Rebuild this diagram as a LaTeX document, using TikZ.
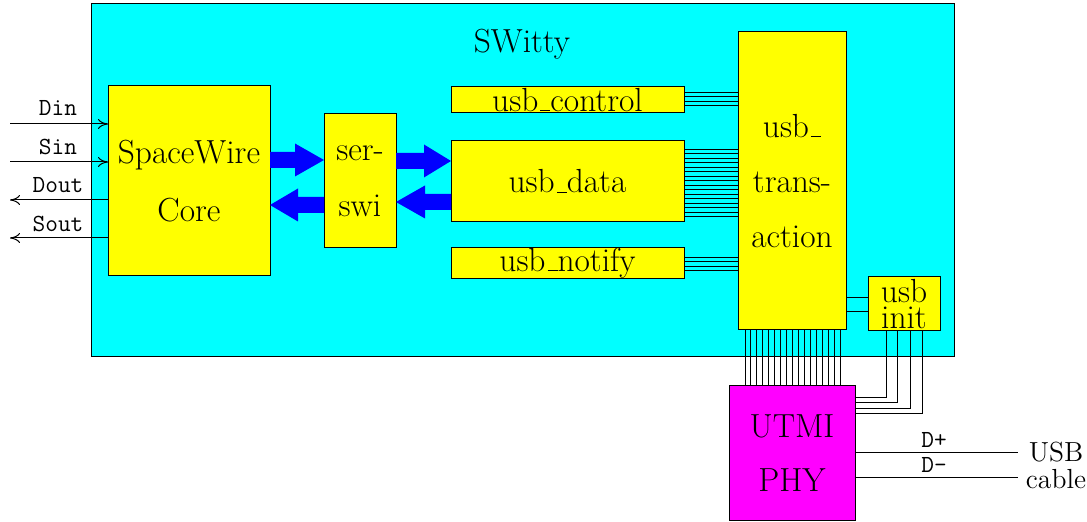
\documentclass[tikz,border=0pt]{standalone}
\usetikzlibrary{arrows.meta,calc}
\definecolor{boxcyan}{RGB}{0,255,255}
\definecolor{boxyellow}{RGB}{255,255,0}
\definecolor{boxmagenta}{RGB}{255,0,255}
\definecolor{pathblue}{RGB}{0,0,255}
% low underscore drawn as a short rule on the baseline
\newcommand\undsc{\leavevmode\kern.06em\vbox{\hrule height 0.5pt width .3em}}
% fat blue data-path arrow: start, tip, signed head length
\newcommand\fatarrow[3]{%
  \fill[fat] ($(#1)+(0,-8)$) -- ($(#2)+(#3,-8)$) -- ($(#2)+(#3,-16.5)$) -- (#2)
    -- ($(#2)+(#3,16.5)$) -- ($(#2)+(#3,8)$) -- ($(#1)+(0,8)$) -- cycle;}
\begin{document}
\begin{tikzpicture}[x=0.5pt,y=-0.5pt,
  every node/.style={inner sep=0pt,outer sep=0pt},
  spanbox/.style n args={4}{rectangle,
    minimum width={(#3-#1)*0.5pt},minimum height={(#4-#2)*0.5pt},
    at={({(#1+#3)/2},{(#2+#4)/2})}},
  unitbox/.style={draw=black,line width=0.5pt,align=center,
    font=\fontsize{16.7pt}{28pt}\selectfont},
  sig/.style={line width=0.5pt},
  wire/.style={line width=0.45pt},
  tip/.style={-{To[length=5pt,width=5pt]}},
  fat/.style={fill=pathblue},
  lab/.style={font=\ttfamily\fontsize{12.3pt}{13pt}\selectfont},
]
\useasboundingbox (0,0) rectangle (1087,522);

% enclosing block
\node[draw=black,line width=0.5pt,fill=boxcyan,spanbox={91}{4}{954}{357}] (switty) {};
\node[font=\fontsize{16.7pt}{20pt}\selectfont,anchor=base] (title) at (522,53) {SWitty};

% functional units
\node[unitbox,fill=boxyellow,spanbox={108}{86}{270}{276},
  font=\fontsize{16.7pt}{29pt}\selectfont] (core) {SpaceWire\\Core};
\node[unitbox,fill=boxyellow,spanbox={324}{114}{396}{248}] (ser) {ser-\\swi};
\node[unitbox,fill=boxyellow,spanbox={451}{87}{684}{113}] (ctrl) {usb\undsc control};
\node[unitbox,fill=boxyellow,spanbox={451}{141}{684}{222}] (data) {usb\undsc data};
\node[unitbox,fill=boxyellow,spanbox={451}{250}{684}{276}] (notify) {usb\undsc notify};
\node[unitbox,fill=boxyellow,spanbox={738}{32}{846}{330},
  font=\fontsize{16.7pt}{27.5pt}\selectfont] (trans) {usb\undsc\\trans-\\action};
\node[unitbox,fill=boxyellow,spanbox={868}{277}{940}{331},
  font=\fontsize{16.7pt}{13pt}\selectfont] (init) {usb\\init};
\node[unitbox,fill=boxmagenta,spanbox={729}{386}{855}{521},
  font=\fontsize{16.7pt}{27pt}\selectfont] (utmi) {UTMI\\PHY};

% external SpaceWire signals
\coordinate (din) at (10,124);
\coordinate (sin) at (10,162);
\coordinate (dout) at (10,200);
\coordinate (sout) at (10,238);
\draw[sig,tip] (din) -- (core.west |- din);
\draw[sig,tip] (sin) -- (core.west |- sin);
\draw[sig,tip] (core.west |- dout) -- (dout);
\draw[sig,tip] (core.west |- sout) -- (sout);
\node[lab,anchor=base] (ldin) at (58,116) {Din};
\node[lab,anchor=base] (lsin) at (58,155) {Sin};
\node[lab,anchor=base] (ldout) at (58,193) {Dout};
\node[lab,anchor=base] (lsout) at (58,232) {Sout};

% data paths between core, serialiser and usb_data
\coordinate (a1s) at (core.east |- 0,160);
\coordinate (a1t) at (ser.west |- 0,160);
\coordinate (a2s) at (ser.west |- 0,205);
\coordinate (a2t) at (core.east |- 0,205);
\coordinate (a3s) at (ser.east |- 0,161);
\coordinate (a3t) at (data.west |- 0,161);
\coordinate (a4s) at (data.west |- 0,202);
\coordinate (a4t) at (ser.east |- 0,202);
\fatarrow{a1s}{a1t}{-29}
\fatarrow{a2s}{a2t}{28}
\fatarrow{a3s}{a3t}{-27}
\fatarrow{a4s}{a4t}{29}

% buses into usb_transaction
\foreach \k in {0,...,3}
  \draw[wire] (ctrl.east |- 0,{92.8+4.1*\k}) -- (trans.west |- 0,{92.8+4.1*\k});
\foreach \k in {0,...,15}
  \draw[wire] (data.east |- 0,{149+4.5*\k}) -- (trans.west |- 0,{149+4.5*\k});
\foreach \k in {0,...,3}
  \draw[wire] (notify.east |- 0,{257+4.6*\k}) -- (trans.west |- 0,{257+4.6*\k});

% usb_transaction <-> usb init
\draw[wire] (trans.east |- 0,297) -- (init.west |- 0,297);
\draw[wire] (trans.east |- 0,311) -- (init.west |- 0,311);

% usb_transaction -> UTMI bus
\foreach \k in {0,...,16}
  \draw[wire] (trans.south -| {745+5.94*\k},0) -- (utmi.north -| {745+5.94*\k},0);

% usb init -> UTMI
\draw[wire] (init.south -| 886,0) |- (utmi.east |- 0,397);
\draw[wire] (init.south -| 897.5,0) |- (utmi.east |- 0,402.5);
\draw[wire] (init.south -| 910,0) |- (utmi.east |- 0,408);
\draw[wire] (init.south -| 922,0) |- (utmi.east |- 0,413.5);

% USB cable
\coordinate (dp) at (1018,453);
\coordinate (dm) at (1018,478);
\draw[sig] (utmi.east |- dp) -- (dp);
\draw[sig] (utmi.east |- dm) -- (dm);
\node[lab,anchor=base] (ldp) at (934,448) {D+};
\node[lab,anchor=base] (ldm) at (934,473) {D-};
\node[align=center,font=\fontsize{13.8pt}{13.5pt}\selectfont] (cable) at (1056,465) {USB\\cable};
\end{tikzpicture}
\end{document}
